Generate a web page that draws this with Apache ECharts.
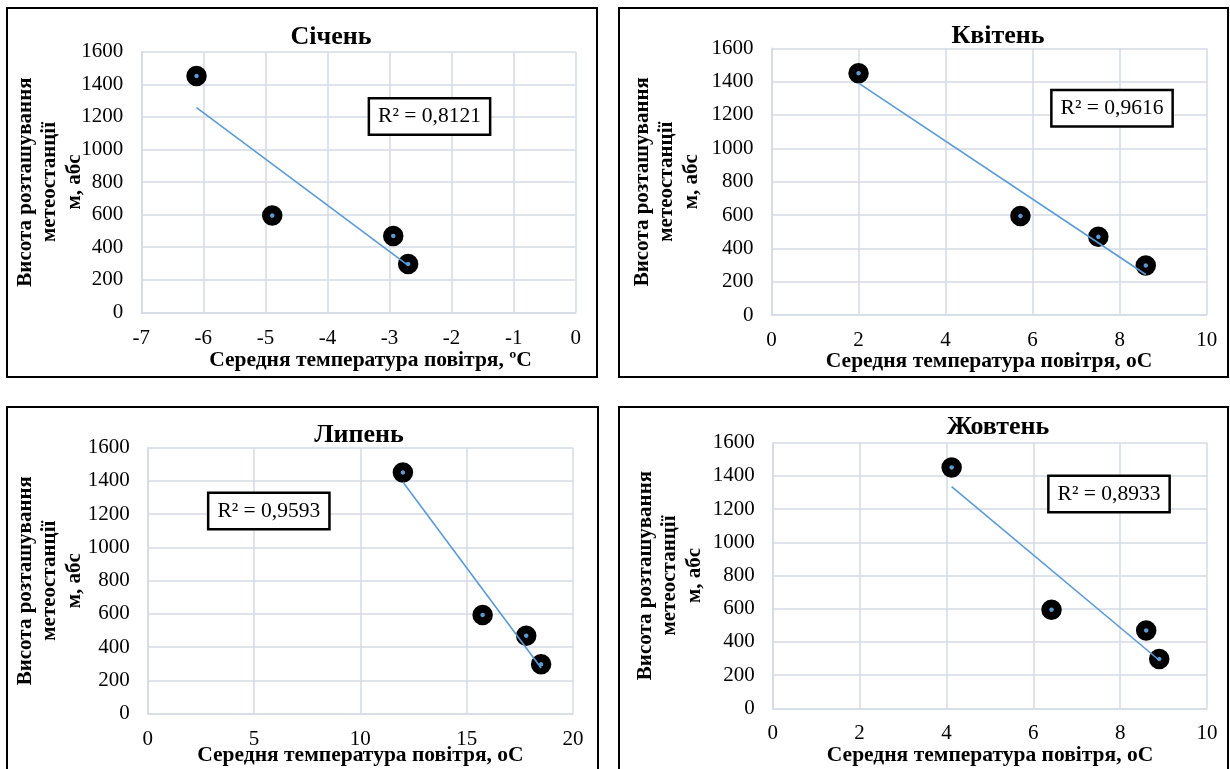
<!DOCTYPE html>
<html>
<head>
<meta charset="utf-8">
<script src="https://cdn.jsdelivr.net/npm/echarts@6/dist/echarts.min.js"></script>
<style>html,body{margin:0;padding:0;background:#fff}#c{width:1230px;height:769px}</style>
</head>
<body>
<div id="c"></div>
<script>
// ---- data ----
const altitude = [1451, 594, 469, 297];
const tempJan = [-6.11, -4.89, -2.94, -2.70];
const tempApr = [2.0, 5.72, 7.51, 8.60];
const tempJul = [12.0, 15.75, 17.8, 18.5];
const tempOct = [4.12, 6.42, 8.6, 8.9];
const monthTitles = ['Січень', 'Квітень', 'Липень', 'Жовтень'];
const r2Labels = ['R² = 0,8121', 'R² = 0,9616', 'R² = 0,9593', 'R² = 0,8933'];
const xTitles = ['Середня температура повітря, ºC', 'Середня температура повітря, оС', 'Середня температура повітря, оС', 'Середня температура повітря, оС'];
const yTitle = 'Висота розташування\nметеостанції\nм, абс';
const xMin = [-7, 0, 0, 0];
const xMax = [0, 10, 20, 10];
const xStep = [1, 2, 5, 2];
const yMin = 0, yMax = 1600, yStep = 200;

const temps = [tempJan, tempApr, tempJul, tempOct];

// ---- layout ----
const grids = [
  {left: 141.3, top: 51.7, width: 434.4, height: 260.6},
  {left: 771.5, top: 48.3, width: 435.2, height: 266.7},
  {left: 147.7, top: 447.7, width: 425.3, height: 266},
  {left: 772.7, top: 442.7, width: 434.3, height: 265.6}
];
const panels = [
  {x: 7, y: 8, w: 590, h: 369},
  {x: 619, y: 8, w: 609, h: 369},
  {x: 7, y: 407, w: 591, h: 400},
  {x: 619, y: 407, w: 609, h: 400}
];
const titlePos = [[331, 37], [998, 36], [359, 435], [998, 427]];
const xTitlePos = [[370.5, 360], [989, 361.7], [360.4, 755.5], [990, 755]];
const yTitlePos = [[50, 182], [667, 181.7], [50, 580.7], [670, 575.5]];
const r2Pos = [[429.5, 116.5], [1112, 108.2], [268.8, 511], [1109, 494]];
const xLabelMargin = [16, 15, 15, 15];

const SERIF = '"Liberation Serif", "Times New Roman", serif';
const gridColor = '#d5dbe6';

function fit(xs, ys) {
  const n = xs.length;
  const mx = xs.reduce((a, b) => a + b, 0) / n;
  const my = ys.reduce((a, b) => a + b, 0) / n;
  let sxy = 0, sxx = 0;
  for (let i = 0; i < n; i++) { sxy += (xs[i] - mx) * (ys[i] - my); sxx += (xs[i] - mx) ** 2; }
  const b = sxy / sxx, a = my - b * mx;
  const x0 = Math.min(...xs), x1 = Math.max(...xs);
  return [[x0, a + b * x0], [x1, a + b * x1]];
}

const plain = v => String(v);

const option = {
  animation: false,
  backgroundColor: '#fff',
  grid: grids.map(g => Object.assign({show: false, outerBoundsMode: 'none', containLabel: false}, g)),
  xAxis: grids.map((g, i) => ({
    type: 'value', gridIndex: i, min: xMin[i], max: xMax[i], interval: xStep[i],
    axisLine: {show: true, onZero: false, lineStyle: {color: gridColor, width: 1.5}},
    axisTick: {show: false},
    splitLine: {show: true, lineStyle: {color: gridColor, width: 1.5}},
    axisLabel: {margin: xLabelMargin[i], fontFamily: SERIF, fontSize: 21, color: '#000', formatter: plain}
  })),
  yAxis: grids.map((g, i) => ({
    type: 'value', gridIndex: i, min: yMin, max: yMax, interval: yStep,
    axisLine: {show: true, onZero: false, lineStyle: {color: gridColor, width: 1.5}},
    axisTick: {show: false},
    splitLine: {show: true, lineStyle: {color: gridColor, width: 1.5}},
    axisLabel: {margin: 18, fontFamily: SERIF, fontSize: 21, color: '#000', formatter: plain}
  })),
  series: [],
  graphic: []
};

temps.forEach((t, i) => {
  option.series.push({
    type: 'scatter', xAxisIndex: i, yAxisIndex: i, z: 3,
    data: t.map((x, k) => [x, altitude[k]]),
    symbol: 'circle', symbolSize: 12.5,
    itemStyle: {color: '#5b9bd5', borderColor: '#000', borderWidth: 8, opacity: 1}
  });
  option.series.push({
    type: 'line', xAxisIndex: i, yAxisIndex: i, z: 4,
    data: fit(t, altitude), showSymbol: false, symbol: 'none',
    lineStyle: {color: '#5b9bd5', width: 1.6}
  });
});

panels.forEach((p, i) => {
  option.graphic.push({
    type: 'rect', shape: {x: p.x, y: p.y, width: p.w, height: p.h}, z: 10,
    style: {fill: 'none', stroke: '#000', lineWidth: 2}, silent: true
  });
  option.graphic.push({
    type: 'text', x: titlePos[i][0], y: titlePos[i][1], z: 10,
    style: {text: monthTitles[i], font: 'bold 26px ' + SERIF, fill: '#000', align: 'center', verticalAlign: 'middle'}
  });
  option.graphic.push({
    type: 'text', x: xTitlePos[i][0], y: xTitlePos[i][1], z: 10,
    style: {text: xTitles[i], font: 'bold 21.5px ' + SERIF, fill: '#000', align: 'center', verticalAlign: 'middle'}
  });
  option.graphic.push({
    type: 'text', x: yTitlePos[i][0], y: yTitlePos[i][1], rotation: Math.PI / 2, z: 10,
    style: {text: yTitle, font: 'bold 21px ' + SERIF, lineHeight: 24.5, fill: '#000', align: 'center', verticalAlign: 'middle'}
  });
  option.graphic.push({
    type: 'text', x: r2Pos[i][0], y: r2Pos[i][1], z: 10,
    style: {text: r2Labels[i], font: '21.5px ' + SERIF, fill: '#000', align: 'center', verticalAlign: 'middle',
      backgroundColor: '#fff', borderColor: '#000', borderWidth: 2.5, padding: [6, 8]}
  });
});

const chart = echarts.init(document.getElementById('c'), null, {renderer: 'canvas', width: 1230, height: 769});
chart.setOption(option);
</script>
</body>
</html>
